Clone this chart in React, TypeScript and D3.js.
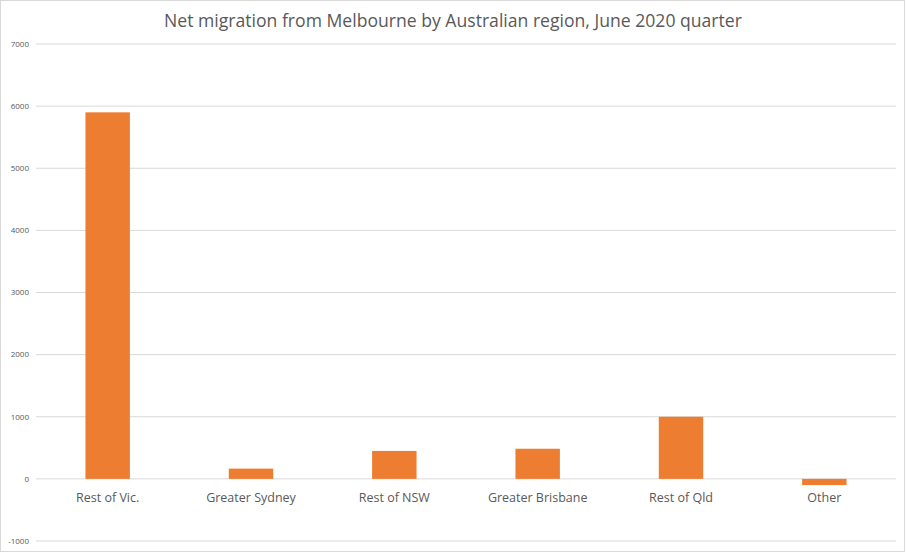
import { scaleBand, scaleLinear } from "d3"

// values
const regions = [
  "Rest of Vic.",
  "Greater Sydney",
  "Rest of NSW",
  "Greater Brisbane",
  "Rest of Qld",
  "Other",
]
const netMigration = [5900, 165, 450, 485, 1000, -100]
const yTicks = [-1000, 0, 1000, 2000, 3000, 4000, 5000, 6000, 7000]

const W = 907
const H = 553
const FONT = "'Open Sans', 'Noto Sans', sans-serif"
const BAR = "#ED7D31"

export default function App() {
  const left = 36
  const right = 896

  const x = scaleBand<string>()
    .domain(regions)
    .range([left, right])
    .paddingInner(0.69)
    .paddingOuter(0.345)

  const y = scaleLinear().domain([-1000, 7000]).range([541, 44])

  return (
    <svg
      width={W}
      height={H}
      viewBox={`0 0 ${W} ${H}`}
      style={{ position: "absolute", left: 0, top: 0, background: "#fff" }}
      fontFamily={FONT}
    >
      <rect x={0.5} y={0.5} width={W - 3} height={H - 2} fill="#fff" stroke="#d9d9d9" />

      <text x={453} y={27} textAnchor="middle" fontSize={17.6} fill="#595959">
        Net migration from Melbourne by Australian region, June 2020 quarter
      </text>

      {/* grid + y labels */}
      {yTicks.map((t) => (
        <g key={t}>
          <line x1={left} x2={right} y1={y(t)} y2={y(t)} stroke="#d9d9d9" strokeWidth={1} />
          <text
            x={29}
            y={y(t)}
            dy="0.35em"
            textAnchor="end"
            fontSize={8}
            fill="#595959"
          >
            {t}
          </text>
        </g>
      ))}

      {/* bars */}
      {regions.map((r, i) => {
        const v = netMigration[i]
        return (
          <rect
            key={r}
            x={x(r)}
            width={x.bandwidth()}
            y={Math.min(y(v), y(0))}
            height={Math.abs(y(v) - y(0))}
            fill={BAR}
          />
        )
      })}

      {/* category labels */}
      {regions.map((r) => (
        <text
          key={r}
          x={x(r)! + x.bandwidth() / 2}
          y={502}
          textAnchor="middle"
          fontSize={12.5}
          fill="#595959"
        >
          {r}
        </text>
      ))}
    </svg>
  )
}
